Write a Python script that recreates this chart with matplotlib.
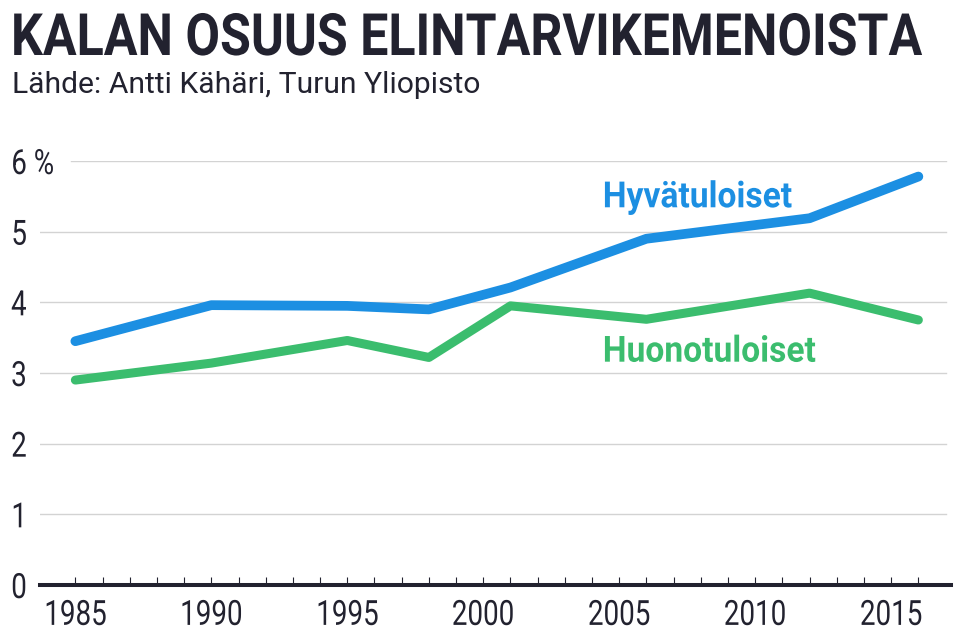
import matplotlib
matplotlib.use("Agg")
import matplotlib.pyplot as plt
from matplotlib.patheffects import AbstractPathEffect
from matplotlib.transforms import Affine2D

# =========================
# Data
# =========================
years = [1985, 1990, 1995, 1998, 2001, 2006, 2012, 2016]
hyvatuloiset = [3.45, 3.96, 3.95, 3.90, 4.21, 4.90, 5.19, 5.78]
huonotuloiset = [2.90, 3.14, 3.46, 3.22, 3.95, 3.76, 4.13, 3.75]

y_ticks = [0, 1, 2, 3, 4, 5, 6]
y_labels = ["0", "1", "2", "3", "4", "5", "6 %"]
x_ticks = [1985, 1990, 1995, 2000, 2005, 2010, 2015]
x_minor = list(range(1985, 2017))

title = "KALAN OSUUS ELINTARVIKEMENOISTA"
subtitle = "Lähde: Antti Kähäri, Turun Yliopisto"

DARK = "#22222f"
BLUE = "#1c8fe2"
GREEN = "#3bbd6e"
GRID = "#d3d3d3"


# Roboto Condensed is not installed, so reshape Roboto glyphs instead
class Squeeze(AbstractPathEffect):
    def __init__(self, sx=0.8, sy=1.0, anchor="left"):
        super().__init__()
        self.sx = sx
        self.sy = sy
        self.anchor = anchor

    def draw_path(self, renderer, gc, tpath, affine, rgbFace=None):
        ext = tpath.get_extents()
        x0 = ext.x0 if self.anchor == "left" else (ext.x0 + ext.x1) / 2
        sq = Affine2D().translate(-x0, 0).scale(self.sx, self.sy).translate(x0, 0)
        renderer.draw_path(gc, tpath, sq + affine, rgbFace)


plt.rcParams["font.family"] = "Roboto"

fig = plt.figure(figsize=(9.59, 6.42), dpi=100)
ax = fig.add_axes([40 / 959, 57 / 642, 911 / 959, 424 / 642])

# gridlines
for v in y_ticks[1:]:
    ax.axhline(v, xmin=0.034 if v == 6 else 0, xmax=0.9945,
               color=GRID, lw=1, zorder=1)

ax.plot(years, hyvatuloiset, color=BLUE, lw=7, solid_capstyle="round",
        solid_joinstyle="round", zorder=3, clip_on=False)
ax.plot(years, huonotuloiset, color=GREEN, lw=6.5, solid_capstyle="round",
        solid_joinstyle="round", zorder=3, clip_on=False)

ax.text(2004.39, 5.345, "Hyvätuloiset", color=BLUE, fontsize=26,
        fontweight="bold", ha="left", va="baseline",
        path_effects=[Squeeze(0.93)])
ax.text(2004.39, 3.16, "Huonotuloiset", color=GREEN, fontsize=26,
        fontweight="bold", ha="left", va="baseline",
        path_effects=[Squeeze(0.93)])

ax.set_xlim(1983.7, 2017.2)
ax.set_ylim(0, 6)

for s in ["top", "right", "left"]:
    ax.spines[s].set_visible(False)
ax.spines["bottom"].set_linewidth(2.9)
ax.spines["bottom"].set_color(DARK)
ax.spines["bottom"].set_zorder(4)

ax.set_xticks(x_ticks, [str(x) for x in x_ticks])
ax.set_xticks(x_minor, minor=True)
ax.tick_params(axis="x", which="both", direction="in", length=6, width=0.8,
               color=DARK, labelsize=25, labelcolor=DARK, pad=10)
for lab in ax.get_xticklabels():
    lab.set_path_effects([Squeeze(0.8, anchor="center")])

ax.set_yticks(y_ticks, y_labels)
ax.tick_params(axis="y", length=0, labelsize=25, labelcolor=DARK, pad=21)
for lab in ax.get_yticklabels():
    lab.set_ha("left")
    lab.set_path_effects([Squeeze(0.8)])

# title: fit the width, then stretch up to the reference cap height
fig.text(11 / 959, 1 - 55 / 642, title, fontsize=36.1, fontweight="bold",
         color=DARK, ha="left", va="baseline",
         path_effects=[Squeeze(1.0, 1.163)])
fig.text(12 / 959, 1 - 92.7 / 642, subtitle, fontsize=21.6,
         color=DARK, ha="left", va="baseline")

fig.savefig("out.png", dpi=100)
